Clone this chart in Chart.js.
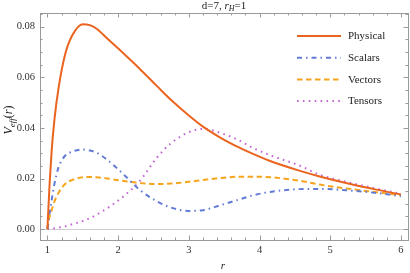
<!DOCTYPE html>
<html>
<head>
<meta charset="utf-8">
<script src="https://cdn.jsdelivr.net/npm/chart.js@4.4.1/dist/chart.umd.min.js"></script>
<style>
  html, body { margin: 0; padding: 0; background: #fff; }
  #wrap { width: 410px; height: 273px; }
</style>
</head>
<body>
<div id="wrap"><canvas id="potChart" width="410" height="273"></canvas></div>
<script>
// radial coordinate samples (denser near the horizon where curves rise steeply)
const rValues = [1, 1.03, 1.06, 1.1, 1.16, 1.25, 1.35, 1.5, 1.6, 1.7, 1.85, 2.1, 2.3, 2.55, 2.75, 3.0, 3.2, 3.45, 3.7, 3.9, 4.15, 4.55, 4.85, 5.3, 5.65, 6];

const physical = [0, 0.0175, 0.031, 0.0435, 0.0562, 0.069, 0.0765, 0.0810, 0.0806, 0.0791, 0.0752, 0.0688, 0.0635, 0.0565, 0.0510, 0.0449, 0.0405, 0.0361, 0.0324, 0.0298, 0.0269, 0.0232, 0.0208, 0.0177, 0.0156, 0.0137];
const scalars  = [0, 0.006, 0.0115, 0.018, 0.0246, 0.0290, 0.0306, 0.0315, 0.0311, 0.0301, 0.0273, 0.0210, 0.0156, 0.0110, 0.0085, 0.0072, 0.0075, 0.0095, 0.0116, 0.0133, 0.0147, 0.0158, 0.0159, 0.0152, 0.0143, 0.0130];
const vectors  = [0, 0.0049, 0.0075, 0.011, 0.0145, 0.0178, 0.0194, 0.0205, 0.0206, 0.0205, 0.0200, 0.0189, 0.0182, 0.0178, 0.0180, 0.0187, 0.0194, 0.0202, 0.0207, 0.0207, 0.0205, 0.0192, 0.0176, 0.0158, 0.0146, 0.0134];
const tensors  = [0, 0.0001, 0.0002, 0.0003, 0.0006, 0.0011, 0.0019, 0.0032, 0.0043, 0.0058, 0.0083, 0.0135, 0.0188, 0.0283, 0.0340, 0.0383, 0.0396, 0.0380, 0.0352, 0.0322, 0.0292, 0.0253, 0.0215, 0.0182, 0.0160, 0.0140];

const seriesNames = ['Physical', 'Scalars', 'Vectors', 'Tensors'];
const xTicks = [1, 2, 3, 4, 5, 6];
const yTicks = [0, 0.02, 0.04, 0.06, 0.08];

const SERIF = "'Liberation Serif', 'DejaVu Serif', serif";

const toPoints = (ys) => rValues.map((r, i) => ({ x: r, y: ys[i] }));

// frame with inward ticks on all four sides, plus the zero line
const framePlugin = {
  id: 'frame',
  beforeDatasetsDraw(chart) {
    const { ctx, chartArea: a, scales } = chart;
    const xs = scales.x, ys = scales.y;
    ctx.save();
    // zero line
    ctx.strokeStyle = '#cfcfcf';
    ctx.lineWidth = 1;
    const y0 = Math.round(ys.getPixelForValue(0)) + 0.5;
    ctx.beginPath();
    ctx.moveTo(a.left, y0);
    ctx.lineTo(a.right, y0);
    ctx.stroke();

    ctx.strokeStyle = '#9a9a9a';
    ctx.beginPath();
    // x ticks, minor every 0.2
    for (let k = 5; k <= 60; k++) {
      const v = k / 10;
      if (k % 2 !== 0) continue;
      const px = Math.round(xs.getPixelForValue(v)) + 0.5;
      if (px < a.left || px > a.right) continue;
      const len = (k % 10 === 0) ? 4.5 : 2.5;
      ctx.moveTo(px, a.bottom); ctx.lineTo(px, a.bottom - len);
      ctx.moveTo(px, a.top); ctx.lineTo(px, a.top + len);
    }
    // y ticks, minor every 0.005
    for (let k = 0; k <= 17; k++) {
      const v = k * 0.005;
      const py = Math.round(ys.getPixelForValue(v)) + 0.5;
      if (py < a.top || py > a.bottom) continue;
      const len = (k % 4 === 0) ? 4.5 : 2.5;
      ctx.moveTo(a.left, py); ctx.lineTo(a.left + len, py);
      ctx.moveTo(a.right, py); ctx.lineTo(a.right - len, py);
    }
    ctx.stroke();
    ctx.strokeRect(Math.round(a.left) + 0.5, Math.round(a.top) + 0.5,
      Math.round(a.right - a.left), Math.round(a.bottom - a.top));
    ctx.restore();
  },
  afterDraw(chart) {
    const { ctx, chartArea: a } = chart;
    ctx.save();
    ctx.fillStyle = '#222';
    ctx.textBaseline = 'alphabetic';

    // title: d=7, r_H=1
    const cx = (a.left + a.right) / 2;
    const parts = [
      { t: 'd=7, ', f: '11px ' + SERIF, dy: 0 },
      { t: 'r', f: 'italic 11px ' + SERIF, dy: 0 },
      { t: 'H', f: 'italic 8px ' + SERIF, dy: 2 },
      { t: '=1', f: '11px ' + SERIF, dy: 0 }
    ];
    let w = 0;
    parts.forEach(p => { ctx.font = p.f; w += ctx.measureText(p.t).width; });
    let x = cx - w / 2;
    parts.forEach(p => { ctx.font = p.f; ctx.fillText(p.t, x, 9 + p.dy); x += ctx.measureText(p.t).width; });

    // x axis title
    ctx.font = 'italic 11px ' + SERIF;
    ctx.textAlign = 'center';
    ctx.fillText('r', 223, 269);

    // y axis title: V_eff(r)
    ctx.textAlign = 'left';
    ctx.translate(12, 120);
    ctx.rotate(-Math.PI / 2);
    const yparts = [
      { t: 'V', f: 'italic 12px ' + SERIF, dy: 0 },
      { t: 'eff', f: 'italic 9px ' + SERIF, dy: 2.5 },
      { t: '(', f: '12px ' + SERIF, dy: 0 },
      { t: 'r', f: 'italic 12px ' + SERIF, dy: 0 },
      { t: ')', f: '12px ' + SERIF, dy: 0 }
    ];
    w = 0;
    yparts.forEach(p => { ctx.font = p.f; w += ctx.measureText(p.t).width; });
    x = -w / 2;
    yparts.forEach(p => { ctx.font = p.f; ctx.fillText(p.t, x, p.dy); x += ctx.measureText(p.t).width; });
    ctx.restore();

    // legend inside the plot
    ctx.save();
    chart.data.datasets.forEach((ds, i) => {
      const ly = 36 + i * 21.7;
      ctx.strokeStyle = ds.borderColor;
      ctx.lineWidth = ds.borderWidth;
      ctx.setLineDash(ds.borderDash || []);
      ctx.beginPath();
      ctx.moveTo(297, ly);
      ctx.lineTo(341, ly);
      ctx.stroke();
      ctx.setLineDash([]);
      ctx.fillStyle = '#222';
      ctx.font = '11px ' + SERIF;
      ctx.textBaseline = 'middle';
      ctx.fillText(ds.label, 348, ly + 0.5);
    });
    ctx.restore();
  }
};

const makeSet = (i, ys, color, dash, width) => ({
  label: seriesNames[i],
  data: toPoints(ys),
  borderColor: color,
  borderWidth: width,
  borderDash: dash,
  borderCapStyle: 'butt',
  pointRadius: 0,
  fill: false,
  cubicInterpolationMode: 'monotone'
});

new Chart(document.getElementById('potChart'), {
  type: 'line',
  data: {
    datasets: [
      makeSet(0, physical, '#ea6420', [], 2),
      makeSet(1, scalars, '#627cd5', [5, 4, 1.5, 4], 2),
      makeSet(2, vectors, '#f6a41c', [5.5, 3.5], 2),
      makeSet(3, tensors, '#c466d6', [1.6, 4.3], 2)
    ]
  },
  options: {
    responsive: false,
    animation: false,
    devicePixelRatio: 1,
    layout: { padding: { top: 13, right: 2, left: 0, bottom: 0 } },
    plugins: {
      legend: { display: false },
      tooltip: { enabled: false }
    },
    scales: {
      x: {
        type: 'linear',
        min: 0.895,
        max: 6.1,
        afterBuildTicks: (s) => { s.ticks = xTicks.map(v => ({ value: v })); },
        afterFit: (s) => { s.height = 33; },
        grid: { display: false, drawTicks: false },
        border: { display: false },
        ticks: {
          padding: 4,
          color: '#333',
          font: { family: SERIF, size: 10.5 },
          maxRotation: 0,
          callback: (v) => String(v)
        }
      },
      y: {
        min: -0.0043,
        max: 0.0854,
        afterBuildTicks: (s) => { s.ticks = yTicks.map(v => ({ value: v })); },
        afterFit: (s) => { s.width = 40; },
        grid: { display: false, drawTicks: false },
        border: { display: false },
        ticks: {
          padding: 5,
          color: '#333',
          font: { family: SERIF, size: 10.5 },
          callback: (v) => v.toFixed(2)
        }
      }
    }
  },
  plugins: [framePlugin]
});
</script>
</body>
</html>
